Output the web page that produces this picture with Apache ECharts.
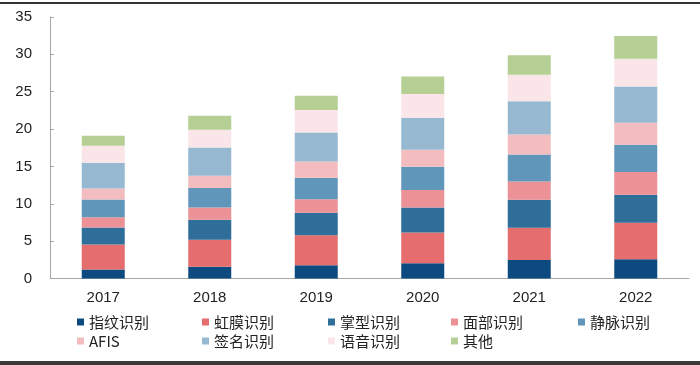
<!DOCTYPE html>
<html><head><meta charset="utf-8">
<script src="https://cdn.jsdelivr.net/npm/echarts@6/dist/echarts.min.js"></script>
<style>html,body{margin:0;padding:0;background:#fff}#c{width:700px;height:365px}</style>
</head><body><div id="c"></div>
<script>
const years = ['2017','2018','2019','2020','2021','2022'];
const seriesNames = ['指纹识别','虹膜识别','掌型识别','面部识别','静脉识别','AFIS','签名识别','语音识别','其他'];
const fingerprint = [1.2, 1.56, 1.79, 2.05, 2.46, 2.59];
const iris        = [3.35, 3.62, 4.01, 4.11, 4.33, 4.87];
const palm        = [2.28, 2.68, 2.99, 3.35, 3.75, 3.75];
const face        = [1.38, 1.65, 1.83, 2.32, 2.45, 3.03];
const vein        = [2.37, 2.59, 2.86, 3.13, 3.62, 3.66];
const afis        = [1.47, 1.65, 2.19, 2.27, 2.68, 2.95];
const signature   = [3.44, 3.79, 3.88, 4.29, 4.42, 4.86];
const voice       = [2.28, 2.37, 2.99, 3.17, 3.57, 3.71];
const other       = [1.33, 1.88, 1.92, 2.36, 2.59, 3.04];
const yTicks = [0,5,10,15,20,25,30,35];

const allData = [fingerprint, iris, palm, face, vein, afis, signature, voice, other];
const colors = ['#0d4a80','#e56d6d','#2e6e99','#ec9195','#6196bb','#f3bcbe','#97b8d1','#fae6e8','#b5cf95'];
const legendPos = [[77,314],[202,314],[328,314],[451,314],[578,314],[77,333],[202,333],[328,333],[451,333]];

const chart = echarts.init(document.getElementById('c'));
chart.setOption({
  animation:false,
  textStyle:{fontFamily:'"Liberation Sans", Arial, sans-serif'},
  grid:{left:50, right:11, top:17, bottom:365-278.5},
  xAxis:{type:'category', data:years,
    axisLine:{lineStyle:{color:'#a6a6a6', width:1}},
    axisTick:{inside:true, length:4, lineStyle:{color:'#a6a6a6'}},
    axisLabel:{color:'#222', fontSize:15, margin:12, fontFamily:'"Liberation Sans", Arial, sans-serif'}},
  yAxis:{type:'value', min:yTicks[0], max:yTicks[yTicks.length-1], interval:5,
    splitLine:{show:false},
    axisLine:{show:true, lineStyle:{color:'#a6a6a6'}},
    axisTick:{show:true, inside:true, length:4, lineStyle:{color:'#a6a6a6'}},
    axisLabel:{color:'#222', fontSize:15, margin:18, fontFamily:'"Liberation Sans", Arial, sans-serif'}},
  legend: seriesNames.map((n,i)=>({
    data:[n], left:legendPos[i][0], top:legendPos[i][1], padding:0,
    itemWidth:7, itemHeight:7, itemGap:2, icon:'rect',
    textStyle:{color:'#222', fontSize:15, lineHeight:16, padding:[0,0,0,0], fontFamily:'"Noto Sans CJK SC", sans-serif'}
  })),
  graphic:[
    {type:'rect', shape:{x:0,y:2,width:700,height:2}, style:{fill:'#333'}},
    {type:'rect', shape:{x:0,y:361,width:700,height:4}, style:{fill:'#3a3a3a'}}
  ],
  series: seriesNames.map((n,i)=>({
    name:n, type:'bar', stack:'total', data:allData[i], barWidth:43,
    itemStyle:{color:colors[i]}
  }))
});
</script></body></html>
